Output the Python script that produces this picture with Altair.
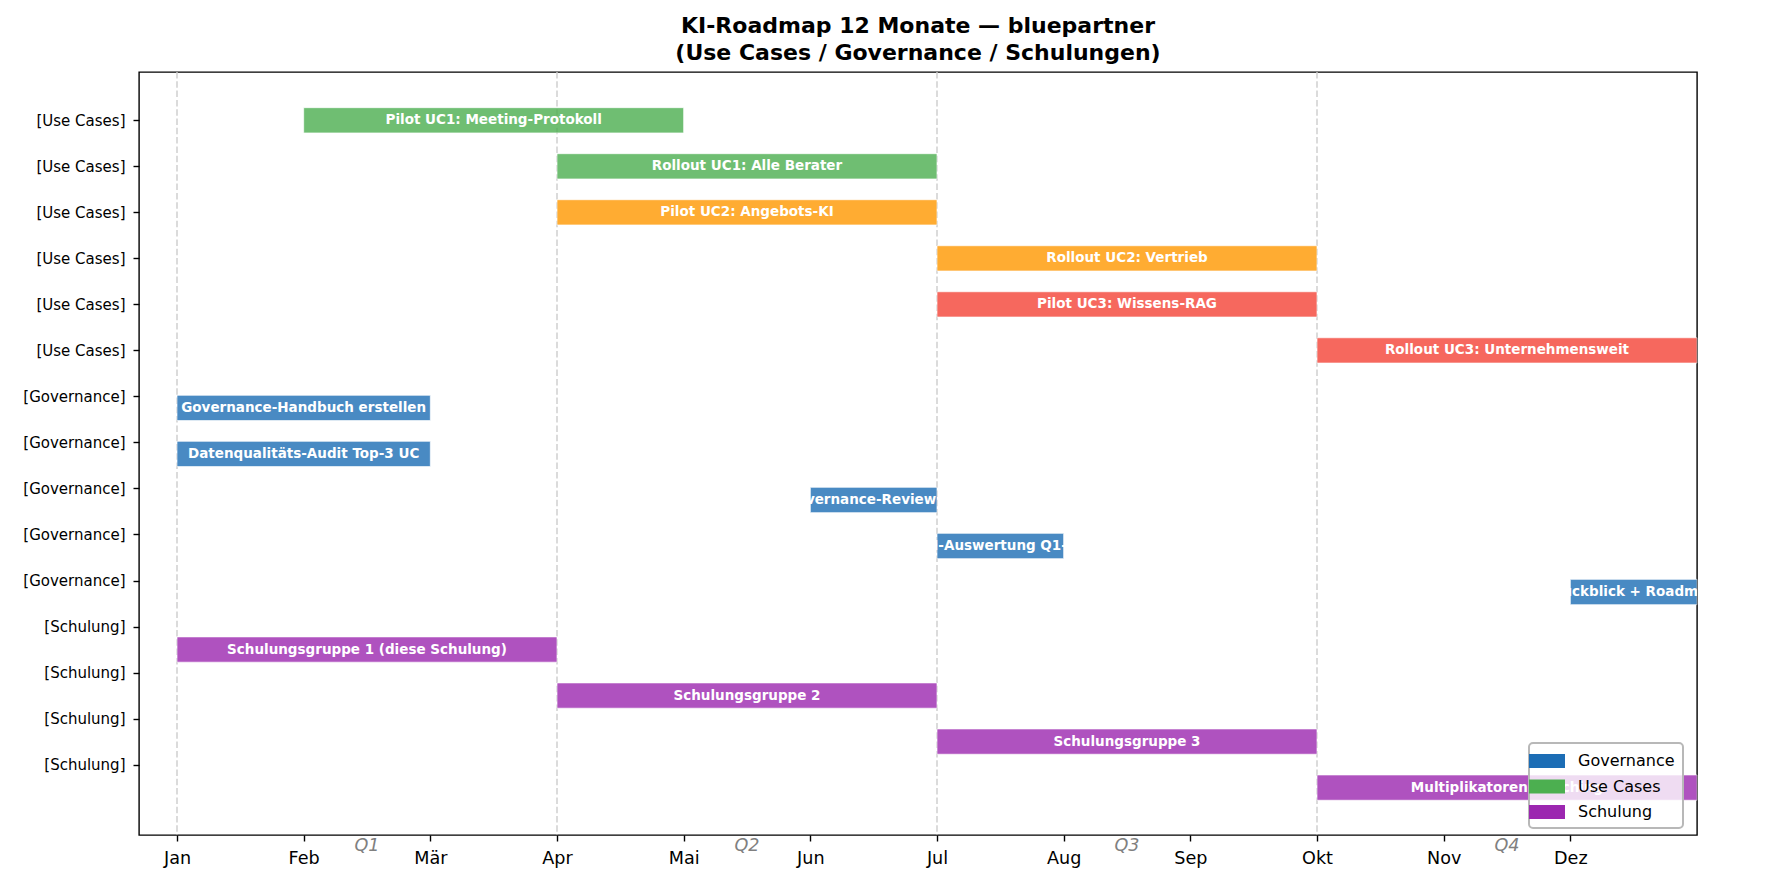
"""KI-Roadmap 12 Monate als Gantt-Diagramm."""

import json

import altair as alt
import pandas as pd

FONT = "DejaVu Sans"

tasks = [
    "Pilot UC1: Meeting-Protokoll",
    "Rollout UC1: Alle Berater",
    "Pilot UC2: Angebots-KI",
    "Rollout UC2: Vertrieb",
    "Pilot UC3: Wissens-RAG",
    "Rollout UC3: Unternehmensweit",
    "Governance-Handbuch erstellen",
    "Datenqualitäts-Audit Top-3 UC",
    "Governance-Review Q2",
    "KPI-Auswertung Q1-Q2",
    "Jahresrückblick + Roadmap 2026",
    "Schulungsgruppe 1 (diese Schulung)",
    "Schulungsgruppe 2",
    "Schulungsgruppe 3",
    "Multiplikatoren-Coaching",
]
areas = ["Use Cases"] * 6 + ["Governance"] * 5 + ["Schulung"] * 4
color_keys = ["Use Cases", "Use Cases", "UC2", "UC2", "UC3", "UC3"] + ["Governance"] * 5 + ["Schulung"] * 4
start_month = [1, 3, 3, 6, 6, 9, 0, 0, 5, 6, 11, 0, 3, 6, 9]
end_month = [4, 6, 6, 9, 9, 12, 2, 2, 6, 7, 12, 3, 6, 9, 12]

months = ["Jan", "Feb", "Mär", "Apr", "Mai", "Jun", "Jul", "Aug", "Sep", "Okt", "Nov", "Dez"]
quarters = ["Q1", "Q2", "Q3", "Q4"]
quarter_starts = [0, 3, 6, 9]

area_order = ["Use Cases", "Governance", "Schulung"]
key_domain = ["Governance", "Use Cases", "Schulung", "UC2", "UC3"]
key_range = ["#1c6db5", "#4caf50", "#9c27b0", "#ff9800", "#f44336"]

BAR_H = 0.55
GROUP_GAP = 0.25
Y_LO, Y_HI = -1.05, 15.53
X_LO, X_HI = -0.3, 12

rows = pd.DataFrame({
    "task": tasks,
    "area": areas,
    "key": color_keys,
    "start": start_month,
    "end": end_month,
})
rows["pos"] = [i + GROUP_GAP * area_order.index(a) for i, a in enumerate(areas)]
rows["lo"] = rows["pos"] - BAR_H / 2
rows["hi"] = rows["pos"] + BAR_H / 2
rows["mid"] = (rows["start"] + rows["end"]) / 2

ylabels = [f"[{a}]" for a in areas]

xscale = alt.Scale(domain=[X_LO, X_HI], nice=False, zero=False)
yscale = alt.Scale(domain=[Y_LO, Y_HI], nice=False, zero=False, reverse=True)

x_axis = alt.Axis(
    values=list(range(12)),
    labelExpr=f"{json.dumps(months)}[datum.value]",
    title=None,
    grid=False,
    domain=False,
    labelFontSize=17.6,
    labelPadding=8,
)
y_axis = alt.Axis(
    values=list(range(len(ylabels))),
    labelExpr=f"{json.dumps(ylabels)}[datum.value]",
    title=None,
    grid=False,
    domain=False,
    labelFontSize=15,
    labelPadding=8,
)

guides = alt.Chart(pd.DataFrame({"m": quarter_starts})).mark_rule(
    color="#cccccc", strokeWidth=1.4, strokeDash=[6.5, 2.8]
).encode(x=alt.X("m:Q", scale=xscale, axis=x_axis))

bars = alt.Chart(rows).mark_bar(opacity=0.8, stroke="white", strokeWidth=0.7).encode(
    x=alt.X("start:Q", scale=xscale, axis=x_axis),
    x2="end:Q",
    y=alt.Y("lo:Q", scale=yscale, axis=y_axis),
    y2="hi:Q",
    color=alt.Color(
        "key:N",
        scale=alt.Scale(domain=key_domain, range=key_range),
        legend=alt.Legend(
            values=["Governance", "Use Cases", "Schulung"],
            title=None,
            orient="none",
            legendX=1390,
            legendY=671,
            symbolType="M-1.8,-0.7H1.8V0.7H-1.8Z",
            symbolSize=400,
            symbolOpacity=1,
            symbolStrokeWidth=0,
            rowPadding=7.5,
            labelOffset=21,
            labelFontSize=16,
            labelColor="black",
            strokeColor="#b8b8b8",
        ),
    ),
)

labels = alt.Chart(rows).mark_text(
    color="white", fontWeight="bold", fontSize=13.5, baseline="middle", clip=True
).encode(
    x=alt.X("mid:Q", scale=xscale),
    y=alt.Y("pos:Q", scale=yscale),
    text="task:N",
)

qdf = pd.DataFrame({"q": quarters, "m": [s + 1.5 for s in quarter_starts], "y": Y_HI})
qlabels = alt.Chart(qdf).mark_text(
    color="#808080", fontStyle="italic", fontSize=17.6, baseline="top", dy=2
).encode(
    x=alt.X("m:Q", scale=xscale),
    y=alt.Y("y:Q", scale=yscale),
    text="q:N",
)

chart = (
    alt.layer(guides, bars, labels, qlabels)
    .properties(
        width=1558,
        height=763,
        autosize=alt.AutoSizeParams(type="none"),
        padding={"left": 131, "top": 64, "right": 73, "bottom": 42},
        title=alt.TitleParams(
            text=["KI-Roadmap 12 Monate — bluepartner", "(Use Cases / Governance / Schulungen)"],
            fontSize=22,
            fontWeight="bold",
            lineHeight=27,
            anchor="middle",
            offset=6,
            color="black",
        ),
    )
    .configure(font=FONT)
    .configure_view(stroke="black", strokeWidth=1.4)
    .configure_axis(
        tickColor="black",
        tickWidth=1.4,
        tickSize=6,
        labelColor="black",
        labelFont=FONT,
    )
    .configure_legend(
        padding=8,
        fillColor="rgba(255,255,255,0.8)",
        strokeWidth=2,
        cornerRadius=4,
    )
)

chart.save("out.html", embed_options={"renderer": "svg", "actions": False})
